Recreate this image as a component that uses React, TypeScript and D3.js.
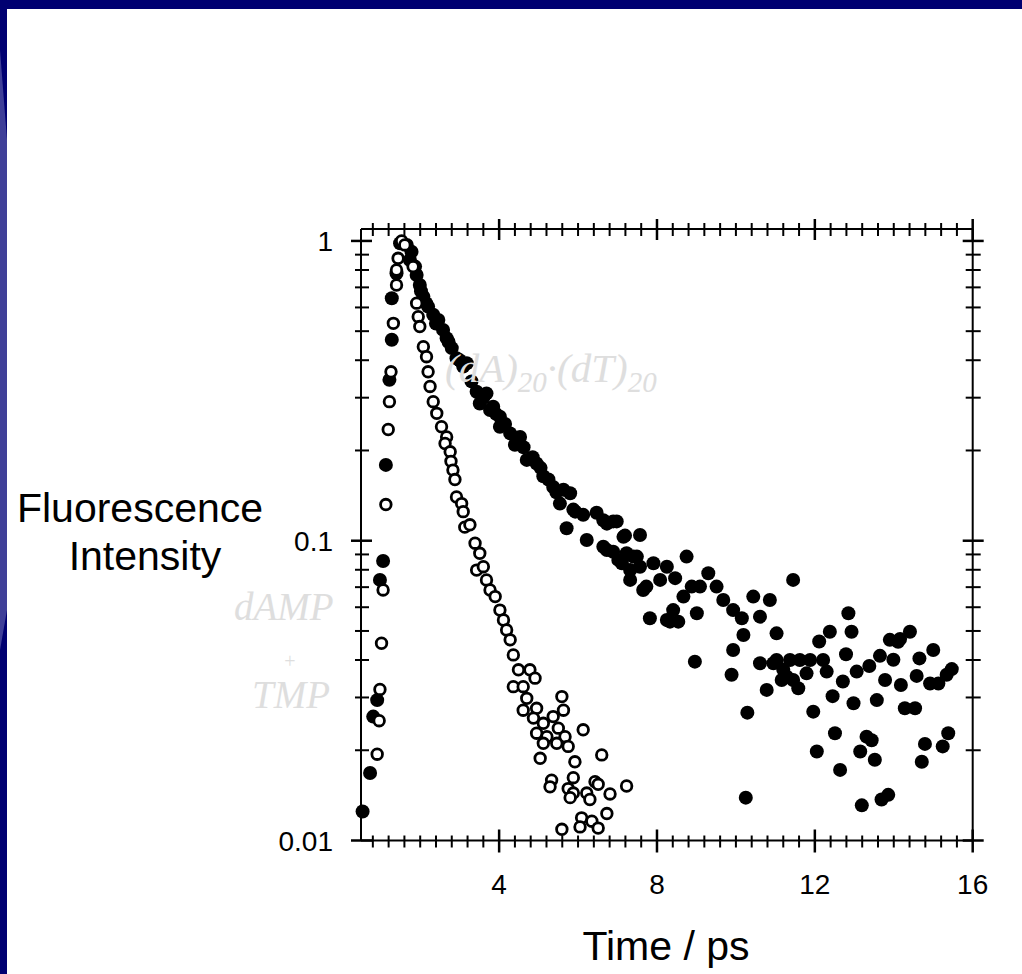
import React from "react";
import * as d3 from "d3";

// (dA)20·(dT)20 duplex – filled circles [time ps, intensity]
const duplexPoints: [number, number][] = [
  [0.54,0.0125],[0.73,0.0168],[0.81,0.0259],[0.91,0.0294],[0.98,0.074],[1.06,0.0856],[1.13,0.179],[1.22,0.344],
  [1.28,0.468],[1.28,0.644],[1.40,0.78],[1.49,0.982],[1.66,0.97],[1.78,0.921],[1.74,0.864],[1.87,0.821],[1.91,0.77],
  [1.99,0.713],[2.08,0.652],[2.20,0.604],[2.33,0.567],[2.46,0.545],[2.58,0.505],[2.67,0.474],[2.80,0.439],[2.92,0.406],
  [3.09,0.381],[3.18,0.391],[3.43,0.314],[3.51,0.287],[3.68,0.31],[3.77,0.273],[3.85,0.28],[4.02,0.259],[4.02,0.24],
  [4.28,0.228],[4.40,0.209],[4.53,0.222],[4.70,0.186],[4.95,0.181],[5.12,0.164],[5.37,0.151],[5.54,0.133],[5.63,0.148],
  [5.71,0.11],[5.80,0.144],[5.88,0.127],[5.93,0.125],[6.13,0.122],[6.22,0.1005],[6.47,0.124],[6.64,0.117],[6.64,0.0955],
  [6.73,0.114],[6.73,0.0931],[6.89,0.116],[6.89,0.0919],[6.98,0.116],[7.02,0.0863],[7.11,0.0841],[7.15,0.103],[7.19,0.104],
  [7.23,0.0908],[7.32,0.0798],[7.32,0.074],[7.40,0.0885],[7.49,0.0885],[7.57,0.1045],[7.57,0.0819],[7.65,0.0685],
  [7.73,0.0703],[7.82,0.0551],[7.91,0.0841],[8.08,0.074],[8.25,0.0819],[8.25,0.0544],[8.33,0.0537],[8.41,0.0587],
  [8.46,0.075],[8.54,0.0537],[8.67,0.0651],[8.75,0.0885],[8.88,0.0703],[8.96,0.0395],[9.01,0.0573],[9.09,0.0703],
  [9.30,0.0779],[9.51,0.0703],[9.68,0.0634],[9.89,0.0357],[9.93,0.0587],[9.93,0.0432],[10.15,0.0551],[10.19,0.0485],
  [10.29,0.0267],[10.25,0.0139],[10.44,0.0651],[10.61,0.0558],[10.61,0.039],[10.78,0.0318],[10.86,0.0634],[10.95,0.039],
  [11.03,0.0491],[11.03,0.04],[11.16,0.0343],[11.20,0.0371],[11.29,0.0352],[11.37,0.04],[11.45,0.074],[11.45,0.0343],
  [11.58,0.0322],[11.62,0.04],[11.79,0.0361],[11.88,0.04],[11.96,0.0269],[12.05,0.0198],[12.11,0.0461],[12.21,0.04],
  [12.30,0.0366],[12.38,0.0497],[12.45,0.0303],[12.51,0.0228],[12.64,0.0172],[12.71,0.0339],[12.79,0.0418],[12.85,0.0573],
  [12.93,0.0497],[12.98,0.0287],[13.06,0.0366],[13.15,0.0198],[13.19,0.0131],[13.31,0.0222],[13.38,0.0382],[13.44,0.0216],
  [13.52,0.0186],[13.57,0.0294],[13.65,0.0413],[13.69,0.0137],[13.78,0.0343],[13.86,0.0142],[13.90,0.0467],[13.99,0.0401],
  [14.11,0.046],[14.16,0.047],[14.18,0.033],[14.28,0.0276],[14.41,0.0497],[14.54,0.0276],[14.58,0.0354],[14.65,0.0405],
  [14.71,0.0183],[14.79,0.021],[14.92,0.0334],[15.00,0.0432],[15.13,0.0334],[15.24,0.0206],[15.34,0.0357],[15.38,0.0228],
  [15.47,0.0373],
  [2.02,0.68],[2.15,0.62],[2.40,0.53],[2.72,0.46],[3.00,0.40],[3.30,0.34],[3.60,0.30],[3.92,0.265],[4.15,0.245],
  [4.62,0.205],[4.85,0.19],[5.05,0.175],[5.25,0.16],[5.45,0.145]
];

// dAMP + TMP mixture – open circles [time ps, intensity]
const monomerPoints: [number, number][] = [
  [0.91,0.0194],[0.96,0.0251],[0.98,0.0319],[1.02,0.0455],[1.06,0.0685],[1.13,0.132],[1.19,0.235],[1.22,0.291],
  [1.26,0.366],[1.32,0.531],[1.40,0.713],[1.40,0.80],[1.44,0.875],[1.53,1.0],[1.61,0.97],[1.82,0.821],[1.91,0.62],
  [1.95,0.559],[1.99,0.518],[2.08,0.444],[2.16,0.411],[2.20,0.366],[2.25,0.327],[2.33,0.291],[2.42,0.266],[2.54,0.24],
  [2.67,0.222],[2.63,0.211],[2.76,0.198],[2.78,0.184],[2.83,0.172],[2.88,0.16],[2.92,0.14],[3.05,0.133],[3.09,0.125],
  [3.13,0.111],[3.26,0.113],[3.39,0.0981],[3.51,0.0908],[3.43,0.0798],[3.60,0.0819],[3.68,0.074],[3.77,0.0685],
  [3.90,0.0651],[4.02,0.0587],[4.11,0.0544],[4.19,0.0504],[4.28,0.0467],[4.36,0.0416],[4.49,0.0371],[4.36,0.0326],
  [4.61,0.0326],[4.78,0.0371],[4.91,0.0348],[4.70,0.0298],[4.95,0.0276],[4.61,0.0272],[4.87,0.0256],[5.12,0.0246],
  [4.95,0.0228],[5.21,0.0222],[5.37,0.0259],[5.59,0.0302],[5.63,0.0272],[5.50,0.0237],[5.67,0.0222],[5.46,0.0211],
  [5.12,0.0211],[5.75,0.0206],[5.04,0.0188],[5.92,0.0183],[6.13,0.0234],[6.60,0.0193],[5.33,0.0159],[5.29,0.0151],
  [5.88,0.0162],[5.75,0.0149],[5.88,0.0144],[5.80,0.0139],[6.22,0.0144],[6.30,0.0137],[6.43,0.0157],[6.51,0.0154],
  [6.81,0.0143],[7.23,0.0152],[6.73,0.0123],[6.09,0.0119],[6.35,0.0116],[6.05,0.0111],[6.51,0.011],[5.59,0.0109]
];

const xMajorTicks = [4, 8, 12, 16];
const xTickLabels = ["4", "8", "12", "16"];
const yMajorTicks = [1, 0.1, 0.01];
const yTickLabels = ["1", "0.1", "0.01"];
const xDomain: [number, number] = [0.5, 16];
const yDomain: [number, number] = [0.01, 1.096];

const W = 1022;
const H = 974;
const NAVY = "#000071";
const LIGHT = "#3f3f98";

export default function App() {
  const left = 361, right = 972.7, top = 229, bottom = 840.5;
  const x = d3.scaleLinear().domain(xDomain).range([left, right]);
  const y = d3.scaleLog().domain(yDomain).range([bottom, top]);

  const xMinor = d3.range(0.8, 16.01, 0.4).filter(
    (t) => !xMajorTicks.some((m) => Math.abs(m - t) < 1e-6)
  );
  const yMinor: number[] = [];
  [0.01, 0.1].forEach((dec) => {
    for (let k = 2; k <= 9; k++) yMinor.push(dec * k);
  });

  const tickStroke = { stroke: "#000", strokeWidth: 2 };
  const sans = "'Liberation Sans', Arial, sans-serif";
  const serif = "'Liberation Serif', 'Times New Roman', serif";
  const annot = "#dedede";

  return (
    <div style={{ position: "absolute", left: 0, top: 0, width: W, height: H }}>
      <svg width={W} height={H} style={{ display: "block" }}>
        <rect x={0} y={0} width={W} height={H} fill="#fff" />
        {/* slide decorations */}
        <rect x={0} y={0} width={W} height={9} fill={NAVY} />
        <rect x={0} y={0} width={7} height={H} fill={NAVY} />
        <polygon points="0,50 7,140 7,610 0,650" fill={LIGHT} />

        {/* frame */}
        <line x1={left} y1={top} x2={left} y2={bottom} {...tickStroke} />
        <line x1={left} y1={bottom} x2={right} y2={bottom} {...tickStroke} />
        <line x1={left} y1={top} x2={right} y2={top} {...tickStroke} />
        <line x1={right} y1={top} x2={right} y2={bottom} {...tickStroke} />

        {/* x ticks bottom & top */}
        {xMinor.map((t) => (
          <g key={"xm" + t}>
            <line x1={x(t)} x2={x(t)} y1={bottom - 5} y2={bottom + 7} {...tickStroke} />
            <line x1={x(t)} x2={x(t)} y1={top - 6} y2={top + 7} {...tickStroke} />
          </g>
        ))}
        {xMajorTicks.map((t) => (
          <g key={"xM" + t}>
            <line x1={x(t)} x2={x(t)} y1={bottom - 11} y2={bottom + 12} stroke="#000" strokeWidth={2.5} />
            <line x1={x(t)} x2={x(t)} y1={top - 10} y2={top + 11} stroke="#000" strokeWidth={2.5} />
          </g>
        ))}
        {/* y ticks left & right */}
        {yMinor.map((v) => (
          <g key={"ym" + v}>
            <line x1={left - 6} x2={left + 8} y1={y(v)} y2={y(v)} {...tickStroke} />
            <line x1={right - 7} x2={right + 8} y1={y(v)} y2={y(v)} {...tickStroke} />
          </g>
        ))}
        {yMajorTicks.map((v) => (
          <g key={"yM" + v}>
            <line x1={left - 10} x2={left + 11} y1={y(v)} y2={y(v)} stroke="#000" strokeWidth={2.5} />
            <line x1={right - 10} x2={right + 11} y1={y(v)} y2={y(v)} stroke="#000" strokeWidth={2.5} />
          </g>
        ))}

        {/* tick labels */}
        {xMajorTicks.map((t, i) => (
          <text key={"xl" + t} x={x(t)} y={894} textAnchor="middle" fontFamily={sans} fontSize={28} fill="#000">
            {xTickLabels[i]}
          </text>
        ))}
        {yMajorTicks.map((v, i) => (
          <text key={"yl" + v} x={333} y={y(v) + 10} textAnchor="end" fontFamily={sans} fontSize={28} fill="#000">
            {yTickLabels[i]}
          </text>
        ))}

        {/* data */}
        <g>
          {duplexPoints.map(([t, v], i) => (
            <circle key={"d" + i} cx={x(t)} cy={y(v)} r={7} fill="#000" />
          ))}
        </g>
        <g>
          {monomerPoints.map(([t, v], i) => (
            <circle key={"m" + i} cx={x(t)} cy={y(v)} r={5.3} fill="#fff" stroke="#000" strokeWidth={2.8} />
          ))}
        </g>

        {/* axis titles */}
        <text x={140} y={522} textAnchor="middle" fontFamily={sans} fontSize={41} fill="#000">Fluorescence</text>
        <text x={145} y={570} textAnchor="middle" fontFamily={sans} fontSize={41} fill="#000">Intensity</text>
        <text x={666} y={960} textAnchor="middle" fontFamily={sans} fontSize={41} fill="#000">Time / ps</text>

        {/* annotations */}
        <g fontFamily={serif} fontStyle="italic" fill={annot}>
          <text x={445} y={382} fontSize={41}>
            <tspan>(dA)</tspan>
            <tspan fontSize={29} dy={10}>20</tspan>
            <tspan dy={-10}>·(dT)</tspan>
            <tspan fontSize={29} dy={10}>20</tspan>
          </text>
          <text x={234} y={620} fontSize={39}>dAMP</text>
          <text x={290} y={668} fontSize={20} fontStyle="normal" textAnchor="middle">+</text>
          <text x={252} y={708} fontSize={39}>TMP</text>
        </g>
      </svg>
    </div>
  );
}
